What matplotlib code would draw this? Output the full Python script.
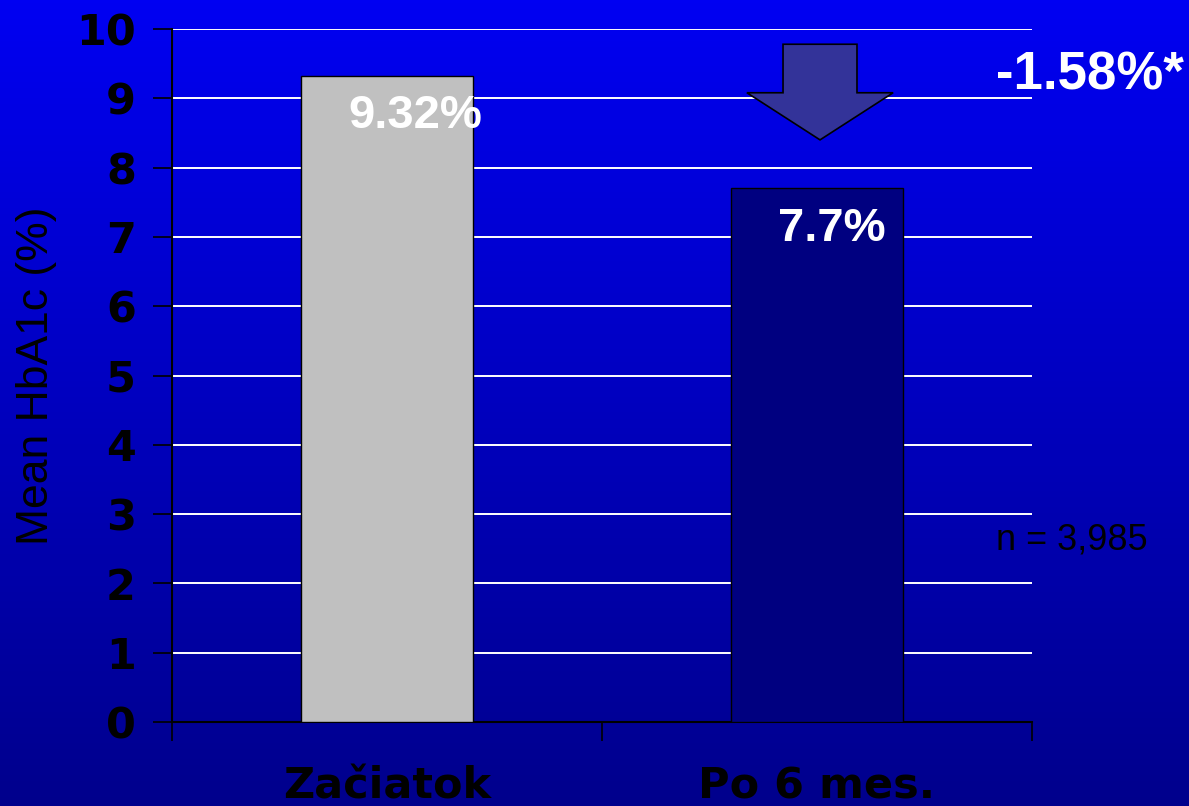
import numpy as np
import matplotlib
matplotlib.use("Agg")
import matplotlib.pyplot as plt
from matplotlib.patches import Polygon

# data
categories = ["Začiatok", "Po 6 mes."]
hba1c = [9.32, 7.7]
value_labels = ["9.32%", "7.7%"]
change_label = "-1.58%*"
n_label = "n = 3,985"
y_ticks = list(range(0, 11))

bar_colors = ["#c0c0c0", "#000080"]
bar_w = 0.4

fig = plt.figure(figsize=(11.89, 8.06), dpi=100)

# background gradient (bright blue on top, dark blue at bottom)
bg = fig.add_axes([0, 0, 1, 1], zorder=-10)
grad = np.linspace(0, 1, 256).reshape(-1, 1)
top = np.array([0, 0, 242]) / 255
bot = np.array([0, 0, 140]) / 255
img = top + (bot - top) * grad[:, :, None]
bg.imshow(img, aspect="auto", extent=[0, 1, 0, 1])
bg.axis("off")

ax = fig.add_axes([172 / 1189, 1 - 722 / 806, 860 / 1189, 693 / 806])
ax.patch.set_alpha(0)

x = np.arange(len(categories))
ax.bar(x, hba1c, width=bar_w, color=bar_colors, edgecolor="black", linewidth=1, zorder=3)

ax.set_xlim(-0.5, len(categories) - 0.5)
ax.set_ylim(0, 10)
ax.set_yticks(y_ticks)
ax.set_yticklabels([str(t) for t in y_ticks], fontsize=31, fontweight="bold",
                   family="DejaVu Sans")
ax.yaxis.grid(True, color="white", linewidth=1.4, zorder=1)
ax.set_axisbelow(True)

# x ticks at category boundaries, labels centered
ax.set_xticks(np.arange(-0.5, len(categories)), minor=False)
ax.set_xticklabels([])
ax.set_xticks(x, minor=True)
ax.set_xticklabels(categories, minor=True, fontsize=31, fontweight="bold",
                   family="DejaVu Sans")
ax.tick_params(axis="x", which="minor", length=0, pad=31)
ax.tick_params(axis="x", which="major", length=14, width=1.2, direction="out")
ax.tick_params(axis="y", length=14, width=1.2, direction="out", pad=12)

for side in ["top", "right"]:
    ax.spines[side].set_visible(False)
for side in ["left", "bottom"]:
    ax.spines[side].set_linewidth(1.5)
    ax.spines[side].set_color("black")

ax.set_ylabel("Mean HbA1c (%)", fontsize=32, family="Liberation Sans",
              color="black", labelpad=14)

# value labels inside bars
for xi, v, lab in zip(x, hba1c, value_labels):
    ax.text(xi - bar_w / 2 + 0.11, v - 0.58, lab, ha="left", va="center",
            color="white", fontsize=34, fontweight="bold",
            family="Liberation Sans", zorder=5)

# down arrow above the second bar
cx = x[1] + 0.007
shaft_top, shaft_bot, tip = 9.78, 9.08, 8.40
arrow = Polygon([(cx - 0.086, shaft_top), (cx + 0.086, shaft_top),
                 (cx + 0.086, shaft_bot), (cx + 0.17, shaft_bot),
                 (cx, tip), (cx - 0.17, shaft_bot), (cx - 0.086, shaft_bot)],
                closed=True, facecolor="#333399", edgecolor="black",
                linewidth=1.2, zorder=6)
ax.add_patch(arrow)

fig.text(1090 / 1189, 1 - 76 / 806, change_label, ha="center", va="center",
         color="white", fontsize=38, fontweight="bold", family="Liberation Sans")
fig.text(1072 / 1189, 1 - 540 / 806, n_label, ha="center", va="center",
         color="black", fontsize=26, family="Liberation Sans")

fig.savefig("out.png", dpi=100)
